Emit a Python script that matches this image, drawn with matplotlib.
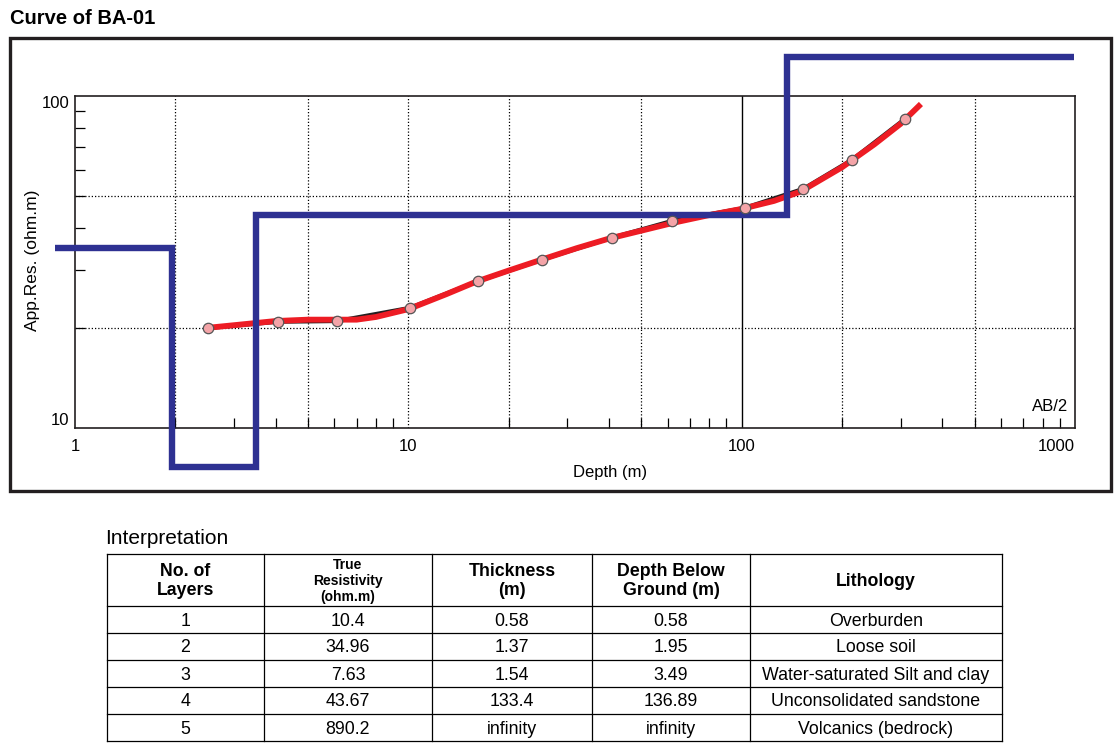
import numpy as np
import matplotlib
matplotlib.use("Agg")
import matplotlib.pyplot as plt
from matplotlib.lines import Line2D
from matplotlib.patches import Rectangle
from matplotlib.ticker import LogLocator, NullFormatter

plt.rcParams['font.family'] = ['Liberation Sans', 'DejaVu Sans']

# ---------------- data ----------------
title = "Curve of BA-01"
# observed apparent resistivity (AB/2 in m, ohm.m)
ab2_obs = [2.51, 4.07, 6.12, 10.1, 16.2, 25.1, 40.7, 61.6, 102, 153, 214, 309]
rho_obs = [20.0, 20.9, 21.0, 23.0, 27.7, 32.1, 37.4, 42.0, 46.0, 52.5, 64.2, 85.3]
# calculated (model) curve
ab2_calc = [2.46, 3.0, 4.0, 5.0, 6.0, 7.0, 8.0, 10, 13, 16, 20, 25, 32, 40,
            50, 63, 80, 100, 125, 150, 200, 250, 300, 345]
rho_calc = [20.0, 20.4, 21.0, 21.2, 21.2, 21.2, 21.6, 22.8, 25.3, 27.6, 29.8,
            32.1, 34.8, 37.2, 39.3, 41.6, 43.8, 45.7, 48.3, 51.5, 61.0, 71.5,
            82.5, 94.6]

# interpretation table
layers = [1, 2, 3, 4, 5]
true_res = [10.4, 34.96, 7.63, 43.67, 890.2]
thickness = ["0.58", "1.37", "1.54", "133.4", "infinity"]
depth_below = ["0.58", "1.95", "3.49", "136.89", "infinity"]
lithology = ["Overburden", "Loose soil", "Water-saturated Silt and clay",
             "Unconsolidated sandstone", "Volcanics (bedrock)"]
depth_bounds = [0.58, 1.95, 3.49, 136.89]

headers = ["No. of\nLayers", "True\nResistivity\n(ohm.m)", "Thickness\n(m)",
           "Depth Below\nGround (m)", "Lithology"]

# ---------------- figure ----------------
W, H = 1118, 748
fig = plt.figure(figsize=(W / 100, H / 100), dpi=100)

def fx(x):
    return x / W

def fy(y):
    return 1 - y / H

# title
fig.text(fx(10), fy(18), title, fontsize=14.5, fontweight='bold',
         ha='left', va='center')

# frame
fig.add_artist(Rectangle((fx(10), fy(491)), fx(1111) - fx(10), fy(38) - fy(491),
                         transform=fig.transFigure, fill=False,
                         edgecolor='#231f20', linewidth=2.4))

ax = fig.add_axes([fx(75), fy(428), fx(1075) - fx(75), fy(96) - fy(428)])
ax.set_xscale('log')
ax.set_yscale('log')
ax.set_xlim(1, 1000)
ax.set_ylim(10, 100)

# grid
dot = (0, (1, 1.6))
for gx in [2, 5, 10, 20, 50, 200, 500]:
    ax.axvline(gx, color='black', lw=0.9, ls=dot, zorder=1)
ax.axvline(100, color='black', lw=1.0, ls='-', zorder=1)
for gy in [20, 50]:
    ax.axhline(gy, color='black', lw=0.9, ls=dot, zorder=1)

# observed line (black), calculated curve (red)
ax.plot(ab2_obs, rho_obs, color='#231f20', lw=3.0, zorder=3,
        solid_capstyle='butt')
ax.plot(ab2_calc, rho_calc, color='#ed1c24', lw=4.2, zorder=4,
        solid_capstyle='butt')

# layered model (blue step), drawn beyond axes
display_start = 0.87
display_end = 995
display_cap = 131
rho_disp = [min(r, display_cap) for r in true_res[1:]]
bnds = [display_start] + depth_bounds[1:] + [display_end]
mx, my = [], []
for i, r in enumerate(rho_disp):
    mx += [bnds[i], bnds[i + 1]]
    my += [r, r]
ax.plot(mx, my, color='#2e3192', lw=4.6, zorder=5,
        clip_on=False, solid_joinstyle='miter', solid_capstyle='butt')

ax.plot(ab2_obs, rho_obs, 'o', ms=7.5, mfc='#f4a4a8', mec='#555555', mew=0.9,
        zorder=6)

# spines/ticks
for s in ax.spines.values():
    s.set_linewidth(1.2)
    s.set_color('#231f20')
ax.tick_params(which='major', length=0, labelsize=12, pad=8)
ax.tick_params(which='minor', direction='in', length=7, width=0.9,
               top=False, right=False)
ax.set_xticks([1, 10, 100, 1000], ['1', '10', '100', '1000'])
ax.set_yticks([10, 100], ['10', '100'])
ax.xaxis.set_minor_locator(LogLocator(base=10, subs=np.arange(2, 10)))
ax.yaxis.set_minor_locator(LogLocator(base=10, subs=np.arange(2, 10)))
ax.xaxis.set_minor_formatter(NullFormatter())
ax.yaxis.set_minor_formatter(NullFormatter())
xl = ax.get_xticklabels()
xl[-1].set_ha('right')
yl = ax.get_yticklabels()
ax.tick_params(axis='y', pad=4)
yl[0].set_va('bottom')
yl[1].set_va('top')

fig.text(fx(33), fy(260), "App.Res. (ohm.m)", rotation=90, fontsize=12.5,
         ha='center', va='center')
fig.text(fx(610), fy(472), "Depth (m)", fontsize=12, ha='center', va='center')
ax.text(0.993, 0.065, "AB/2", transform=ax.transAxes, fontsize=12,
        ha='right', va='center')

# ---------------- table ----------------
fig.text(fx(105), fy(538), "Interpretation", fontsize=15, ha='left',
         va='center')
col_edges = [107, 264, 432, 592, 750, 1002]
row_edges = [554, 606, 633, 660, 687, 714, 741]
for x in col_edges:
    fig.add_artist(Line2D([fx(x), fx(x)], [fy(row_edges[0]), fy(row_edges[-1])],
                          transform=fig.transFigure, color='black', lw=0.9))
for y in row_edges:
    fig.add_artist(Line2D([fx(col_edges[0]), fx(col_edges[-1])], [fy(y), fy(y)],
                          transform=fig.transFigure, color='black', lw=0.9))

for j, h in enumerate(headers):
    cx = (col_edges[j] + col_edges[j + 1]) / 2
    cy = (row_edges[0] + row_edges[1]) / 2 + 1
    size = 10 if j == 1 else 12.8
    fig.text(fx(cx), fy(cy), h, fontsize=size, fontweight='bold',
             ha='center', va='center', linespacing=1.15 if j == 1 else 1.1)

for i in range(len(layers)):
    vals = [str(layers[i]), f"{true_res[i]:g}", thickness[i], depth_below[i],
            lithology[i]]
    cy = (row_edges[i + 1] + row_edges[i + 2]) / 2 + 1.5
    for j, v in enumerate(vals):
        cx = (col_edges[j] + col_edges[j + 1]) / 2
        fig.text(fx(cx), fy(cy), v, fontsize=12.8, ha='center', va='center')

fig.savefig("out.png", dpi=100)
